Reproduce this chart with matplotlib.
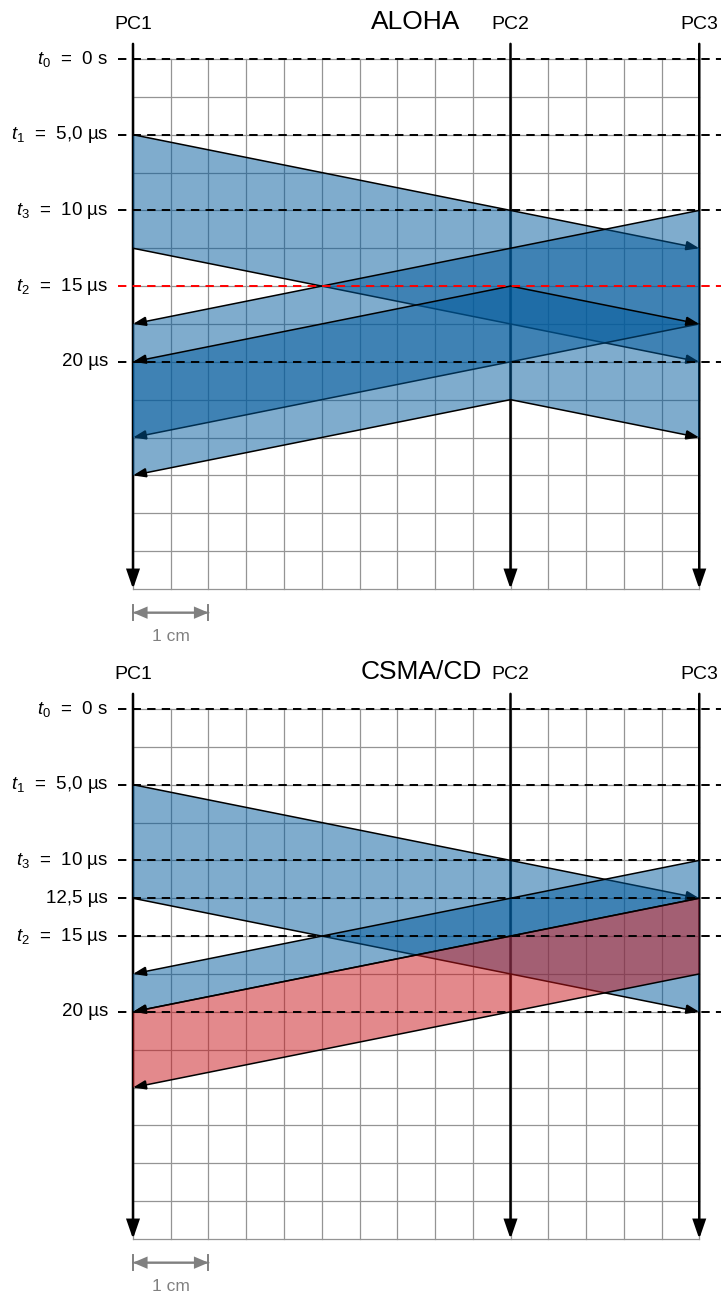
import matplotlib
matplotlib.use("Agg")
import matplotlib.pyplot as plt
from matplotlib.patches import Polygon, FancyArrowPatch, ArrowStyle

plt.rcParams['font.family'] = ['Liberation Sans', 'DejaVu Sans']
plt.rcParams['mathtext.fontset'] = 'custom'
plt.rcParams['mathtext.rm'] = 'Liberation Sans'
plt.rcParams['mathtext.it'] = 'Liberation Sans:italic'

# station positions (cm) and names
stations = ["PC1", "PC2", "PC3"]
station_x = [0.0, 5.0, 7.5]
speed = 1.0          # cm per µs (drawing scale)
grid_step_x = 0.5    # cm
grid_step_t = 2.5    # µs
grid_t_end = 35.0    # µs

# ALOHA panel
aloha_times = [0, 5, 10, 15, 20]
aloha_labels = ["$t_0$  =  0 s", "$t_1$  =  5,0 µs", "$t_3$  =  10 µs", "$t_2$  =  15 µs", "20 µs"]
aloha_line_colors = ["k", "k", "k", "red", "k"]
# (sender index, start µs, end µs, target indices, colour)
aloha_tx = [
	(0, 5.0, 12.5, [2], "blue"),
	(2, 10.0, 17.5, [0], "blue"),
	(1, 15.0, 22.5, [0, 2], "blue"),
]

# CSMA/CD panel
csma_times = [0, 5, 10, 12.5, 15, 20]
csma_labels = ["$t_0$  =  0 s", "$t_1$  =  5,0 µs", "$t_3$  =  10 µs", "12,5 µs", "$t_2$  =  15 µs", "20 µs"]
csma_line_colors = ["k"] * 6
csma_tx = [
	(0, 5.0, 12.5, [2], "blue"),
	(2, 10.0, 12.5, [0], "blue"),
	(2, 12.5, 17.5, [0], "red"),
]

fill_colors = {"blue": "#005a9c", "red": "#c8141a"}

W, H = 721, 1293
px_cm = 75.5
px_us = 15.14
x0_px = 133


def arrow(ax, p0, p1, color="k", lw=1.1, hl=8.0, hw=2.9, z=5):
	st = ArrowStyle('-|>', head_length=hl, head_width=hw)
	a = FancyArrowPatch(p0, p1, arrowstyle=st, mutation_scale=1, lw=lw,
		color=color, shrinkA=0, shrinkB=0, zorder=z, joinstyle='miter')
	ax.add_patch(a)


def drawPanel(ax, title, title_x, times, labels, line_colors, txs, t0_px, h_px):
	ax.set_xlim(-x0_px / px_cm, (W - x0_px) / px_cm)
	ax.set_ylim((h_px - t0_px) / px_us, -t0_px / px_us)
	ax.set_axis_off()

	# grid
	n_x = int(round(station_x[-1] / grid_step_x))
	n_t = int(round(grid_t_end / grid_step_t))
	for i in range(n_x + 1):
		ax.plot([i * grid_step_x] * 2, [0, grid_t_end], color="0.58", lw=0.9, zorder=1)
	for j in range(n_t + 1):
		ax.plot([0, station_x[-1]], [j * grid_step_t] * 2, color="0.58", lw=0.9, zorder=1)

	# station lines
	for name, sx in zip(stations, station_x):
		arrow(ax, (sx, -1.0), (sx, grid_t_end), lw=1.8, hl=11, hw=3.8, z=1.5)
		ax.text(sx, -1.95, name, ha="center", va="baseline", fontsize=14)
	ax.text(title_x, -1.95, title, ha="center", va="baseline", fontsize=19)

	# transmissions
	z = 2
	for sender, ts, te, targets, col in txs:
		xs = station_x[sender]
		verts = [(xs, ts)]
		left = [t for t in targets if station_x[t] < xs]
		right = [t for t in targets if station_x[t] > xs]
		for t in left:
			d = abs(station_x[t] - xs) / speed
			verts += [(station_x[t], ts + d), (station_x[t], te + d)]
		verts.append((xs, te))
		for t in right:
			d = abs(station_x[t] - xs) / speed
			verts += [(station_x[t], te + d), (station_x[t], ts + d)]
		ax.add_patch(Polygon(verts, closed=True, facecolor=fill_colors[col],
			alpha=0.5, edgecolor="none", zorder=z))
		for t in targets:
			d = abs(station_x[t] - xs) / speed
			arrow(ax, (xs, ts), (station_x[t], ts + d), z=z + 0.5)
			arrow(ax, (xs, te), (station_x[t], te + d), z=z + 0.5)
		z += 1

	# time marks
	for tm, lab, lc in zip(times, labels, line_colors):
		ax.plot([-0.2, 7.8], [tm, tm], color=lc, lw=1.4, dashes=(4.3, 3.2), zorder=20)
		ax.text(-0.33, tm, lab, ha="right", va="center", fontsize=13.5)

	# scale bar
	ys = 36.57
	arrow(ax, (0, ys), (1, ys), color="0.5", lw=1.4, hl=8, hw=3.4, z=5)
	arrow(ax, (1, ys), (0, ys), color="0.5", lw=1.4, hl=8, hw=3.4, z=5)
	for xb in [0, 1]:
		ax.plot([xb, xb], [ys - 0.5, ys + 0.5], color="0.5", lw=1.4)
	ax.text(0.5, 38.43, "1 cm", ha="center", va="baseline", fontsize=12.5, color="0.5")


fig = plt.figure(figsize=(W / 100, H / 100), dpi=100)
half = H / 2
ax1 = fig.add_axes([0, 0.5, 1, 0.5])
ax2 = fig.add_axes([0, 0, 1, 0.5])
drawPanel(ax1, "ALOHA", (416 - x0_px) / px_cm, aloha_times, aloha_labels,
	aloha_line_colors, aloha_tx, 59, half)
drawPanel(ax2, "CSMA/CD", (421 - x0_px) / px_cm, csma_times, csma_labels,
	csma_line_colors, csma_tx, 709 - half, half)

fig.savefig("out.png", dpi=100)
